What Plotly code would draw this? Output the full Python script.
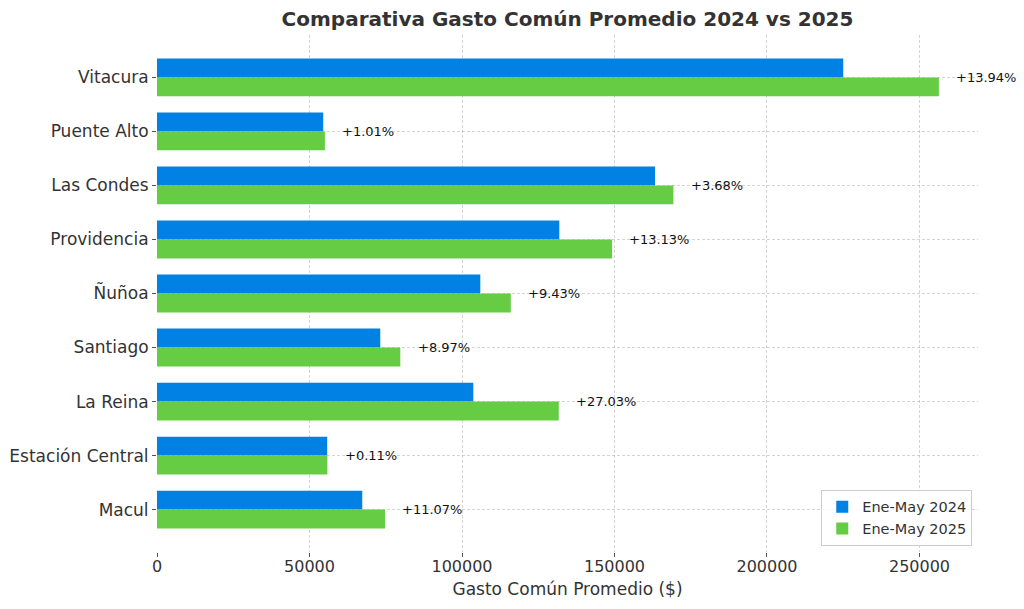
import plotly.graph_objects as go

comunas = ["Vitacura", "Puente Alto", "Las Condes", "Providencia", "Ñuñoa",
           "Santiago", "La Reina", "Estación Central", "Macul"]
gasto_2024 = [225000, 54500, 163300, 131900, 106000, 73200, 103700, 55800, 67300]
gasto_2025 = [256365, 55050, 169310, 149220, 116000, 79770, 131730, 55860, 74750]
variacion = [13.94, 1.01, 3.68, 13.13, 9.43, 8.97, 27.03, 0.11, 11.07]
x_ticks = [0, 50000, 100000, 150000, 200000, 250000]

FONT = "DejaVu Sans"
W, H = 1016, 601
fig = go.Figure()
fig.add_trace(go.Bar(y=comunas, x=gasto_2024, orientation="h", name="Ene-May 2024",
                     marker=dict(color="#0081E3", line=dict(width=0))))
fig.add_trace(go.Bar(y=comunas, x=gasto_2025, orientation="h", name="Ene-May 2025",
                     marker=dict(color="#66CC44", line=dict(width=0))))

for c, a, b, p in zip(comunas, gasto_2024, gasto_2025, variacion):
    fig.add_annotation(x=max(a, b) + 5000, y=c, text=f"+{p:.2f}%", showarrow=False,
                       xanchor="left", yanchor="middle",
                       font=dict(family=FONT, size=13, color="#111"))

xmax = max(gasto_2024 + gasto_2025) * 1.05
n = len(comunas)
pad = (n - 1 + 0.7) * 0.05 + 0.35
grid = "rgba(160,160,160,0.45)"
fig.update_layout(
    width=W, height=H,
    paper_bgcolor="white", plot_bgcolor="white",
    margin=dict(l=149, r=46, t=27, b=57),
    barmode="group", bargap=0.3, bargroupgap=0,
    title=dict(text="<b>Comparativa Gasto Común Promedio 2024 vs 2025</b>",
               xref="paper", x=0.5, xanchor="center",
               yref="container", y=1 - 11 / H, yanchor="middle",
               font=dict(family=FONT, size=20, color="#333")),
    font=dict(family=FONT, color="#333"),
    legend=dict(x=0.993, y=0.012, xanchor="right", yanchor="bottom",
                bgcolor="rgba(255,255,255,0.85)", bordercolor="#ccc", borderwidth=1,
                font=dict(family=FONT, size=14.5, color="#333"), traceorder="normal",
                tracegroupgap=0),
    xaxis=dict(range=[0, xmax], tickvals=x_ticks, ticktext=[str(v) for v in x_ticks],
               showgrid=True, gridcolor=grid, griddash="3px,2px", gridwidth=1,
               layer="above traces", automargin=False,
               zeroline=False, showline=False, ticks="outside", ticklen=4,
               ticklabelstandoff=-4,
               tickcolor="#555", tickfont=dict(size=16, color="#333"),
               title=dict(text="Gasto Común Promedio ($)", font=dict(size=17, color="#333"),
                          standoff=7)),
    yaxis=dict(range=[n - 1 + pad, -pad], showgrid=True, gridcolor=grid,
               griddash="3px,2px", gridwidth=1, layer="above traces", automargin=False,
               zeroline=False, showline=False, ticks="outside", ticklen=4,
               tickcolor="#555", tickfont=dict(size=17, color="#333")),
)
fig.write_html("out.html")
